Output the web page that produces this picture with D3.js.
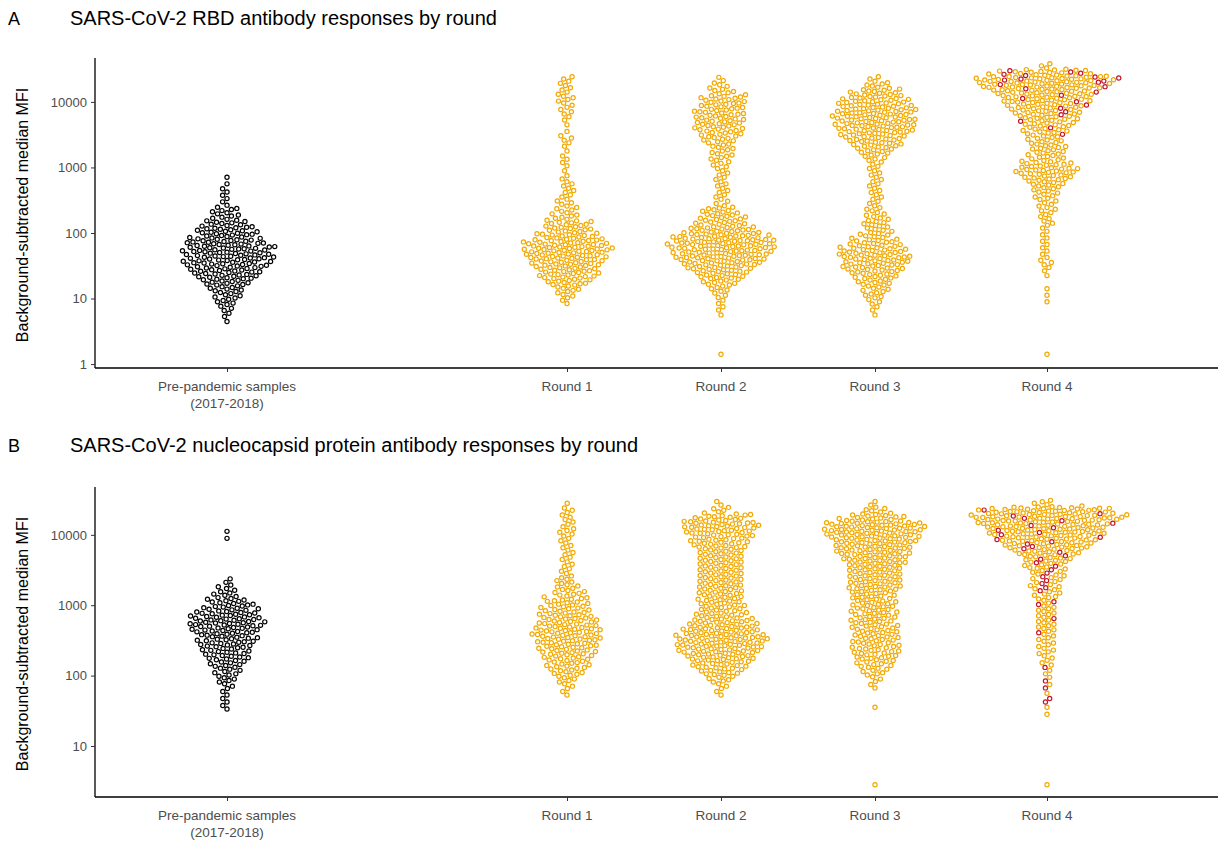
<!DOCTYPE html>
<html><head><meta charset="utf-8">
<script src="https://cdn.jsdelivr.net/npm/d3@7"></script>
<style>body{margin:0;background:#fff;font-family:Arial,"Liberation Sans",sans-serif}</style>
</head><body><svg id="c" width="1225" height="846"></svg>
<script>
// Data: counts of samples per log10 bin of width 0.1 (bin k covers 10^(k/10) .. 10^((k+1)/10))
const categories = ["Pre-pandemic samples\n(2017-2018)", "Round 1", "Round 2", "Round 3", "Round 4"];
const yTicksA = [1, 10, 100, 1000, 10000];
const yTicksB = [10, 100, 1000, 10000];
const titleA = "SARS-CoV-2 RBD antibody responses by round";
const titleB = "SARS-CoV-2 nucleocapsid protein antibody responses by round";
const yLabel = "Background-subtracted median MFI";

// Panel A (RBD)
const rbdPre = {6:1,7:2,8:3,9:5,10:6,11:8,12:11,13:14,14:16,15:18,16:19,17:19,18:18,19:14,20:13,21:10,22:6,23:6,24:2,25:2,26:2,27:1,28:1};
const rbdR1 = {9:2,10:4,11:6,12:10,13:13,14:14,15:16,16:18,17:20,18:18,19:14,20:11,21:10,22:6,23:5,24:4,25:3,26:3,27:3,28:2,29:1,30:2,31:2,32:1,33:2,34:3,35:1,36:1,37:2,38:3,39:3,40:4,41:3,42:3,43:3};
const rbdR2 = {1:1,7:1,8:2,9:2,10:3,11:5,12:8,13:11,14:14,15:18,16:21,17:22,18:24,19:21,20:16,21:11,22:10,23:8,24:3,25:3,26:3,27:3,28:3,29:3,30:4,31:5,32:5,33:6,34:8,35:10,36:11,37:11,38:11,39:10,40:10,41:6,42:4,43:2};
const rbdR3 = {7:1,8:2,9:3,10:5,11:6,12:8,13:10,14:13,15:14,16:16,17:14,18:11,19:8,20:6,21:6,22:5,23:4,24:3,25:3,26:3,27:3,28:3,29:3,30:3,31:5,32:8,33:11,34:13,35:16,36:18,37:18,38:18,39:16,40:14,41:11,42:6,43:3};
const rbdR4 = {1:1,9:1,10:1,11:1,13:1,14:2,15:3,16:2,17:2,18:2,19:2,20:2,21:3,22:3,23:4,24:4,25:5,26:6,27:8,28:11,29:14,30:11,31:8,32:8,33:8,34:8,35:9,36:10,37:12,38:13,39:16,40:18,41:21,42:26,43:26,44:17,45:3};
const rbdR4Red = {35:1,36:1,37:1,38:2,39:2,40:2,41:2,42:3,43:6,44:5};

// Panel B (nucleocapsid)
const ncPre = {15:2,16:2,17:2,18:3,19:5,20:6,21:8,22:10,23:11,24:13,25:14,26:16,27:18,28:16,29:13,30:10,31:6,32:4,33:2,39:1,40:1};
const ncR1 = {17:2,18:3,19:5,20:8,21:10,22:11,23:13,24:14,25:16,26:16,27:14,28:13,29:11,30:10,31:8,32:6,33:5,34:3,35:3,36:3,37:3,38:3,39:3,40:4,41:3,42:3,43:3,44:1};
const ncR2 = {17:2,18:3,19:6,20:10,21:13,22:16,23:19,24:21,25:22,26:19,27:16,28:13,29:11,30:11,31:11,32:11,33:11,34:11,35:11,36:11,37:11,38:13,39:14,40:16,41:18,42:13,43:5,44:2};
const ncR3 = {4:1,15:1,18:2,19:3,20:6,21:8,22:10,23:11,24:11,25:11,26:11,27:11,28:11,29:11,30:11,31:11,32:13,33:13,34:13,35:14,36:16,37:18,38:19,39:21,40:24,41:24,42:14,43:6,44:2};
const ncR4 = {4:1,14:1,15:1,17:1,18:1,19:1,20:2,21:2,22:3,23:4,24:4,25:4,26:4,27:5,28:4,29:5,30:3,31:6,32:5,33:5,34:6,35:8,36:10,37:14,38:18,39:22,40:25,41:28,42:33,43:30,44:5};
const ncR4Red = {16:2,18:1,19:1,21:1,26:1,28:1,30:2,32:2,33:2,34:2,35:2,36:2,37:2,38:3,39:3,40:3,41:3,42:3,43:2};

const panels = [
  {letter:"A", title:titleA, ticks:yTicksA, groups:[rbdPre,rbdR1,rbdR2,rbdR3,rbdR4], red:rbdR4Red},
  {letter:"B", title:titleB, ticks:yTicksB, groups:[ncPre,ncR1,ncR2,ncR3,ncR4], red:ncR4Red}
];

// ---- layout ----
const svg = d3.select("#c");
const catX = d3.scaleOrdinal().domain(categories).range([227, 567, 721, 875, 1047]);
const panelLayout = [
  {top:58, bottom:368, logBottom:-0.06, logTop:4.67, titleY:25},
  {top:487, bottom:797, logBottom:0.275, logTop:4.68, titleY:452}
];
const ORANGE = "#f2a900", RED = "#c4162a";
const D = 5.5;

function expand(bins, red){
  const pts=[];
  const keys=new Set([...Object.keys(bins), ...Object.keys(red||{})].map(Number));
  [...keys].sort((a,b)=>a-b).forEach(k=>{
    const n1=bins[k]||0, n2=red?(red[k]||0):0, n=n1+n2;
    let r=0;
    for(let i=0;i<n;i++){
      const isRed = n2>0 && (i % Math.max(1,Math.floor(n/n2))===0) && r<n2;
      if(isRed) r++;
      pts.push({k, lv:(k+(i+0.5)/n)/10, red:isRed});
    }
  });
  return pts;
}

function swarm(pts, y){
  const placed=[];
  pts.sort((a,b)=>a.lv-b.lv);
  pts.forEach(p=>{
    p.y=y(Math.pow(10,p.lv));
    const iv=[];
    placed.forEach(q=>{const dy=Math.abs(q.y-p.y); if(dy<D){const dx=Math.sqrt(D*D-dy*dy); iv.push([q.x-dx,q.x+dx]);}});
    const cands=[0]; iv.forEach(v=>{cands.push(v[0]-1e-6,v[1]+1e-6);});
    cands.sort((a,b)=>Math.abs(a)-Math.abs(b));
    for(const c of cands){ if(!iv.some(v=>c>v[0]&&c<v[1])){p.x=c;break;} }
    placed.push(p);
  });
  return pts;
}

panels.forEach((P,pi)=>{
  const L=panelLayout[pi];
  const y=d3.scaleLog().domain([Math.pow(10,L.logBottom),Math.pow(10,L.logTop)]).range([L.bottom,L.top]);
  const g=svg.append("g");
  g.append("text").attr("x",8).attr("y",L.titleY).attr("font-size",18).text(P.letter);
  g.append("text").attr("x",70).attr("y",L.titleY).attr("font-size",20).text(P.title);
  const ax=g.append("g").attr("transform","translate(95,0)").call(d3.axisLeft(y).tickValues(P.ticks).tickFormat(d3.format("d")).tickSize(4).tickPadding(4));
  ax.select(".domain").attr("d",`M0,${L.top}V${L.bottom}`).attr("stroke","#000").attr("stroke-width",1.3);
  ax.selectAll(".tick line").attr("stroke","#333");
  ax.selectAll(".tick text").attr("font-size",13).attr("fill","#4d4d4d").attr("font-family","Arial,'Liberation Sans',sans-serif");
  const xa=g.append("g").attr("transform",`translate(0,${L.bottom})`).call(d3.axisBottom(catX).tickSize(4).tickPadding(5).tickFormat(""));
  xa.select(".domain").attr("d","M95,0H1218").attr("stroke","#000").attr("stroke-width",1.3);
  xa.selectAll(".tick line").attr("stroke","#333");
  categories.forEach(c=>{
    c.split("\n").forEach((s,i)=>g.append("text").attr("x",catX(c)).attr("y",L.bottom+23+i*17).attr("text-anchor","middle").attr("font-size",13.5).attr("fill","#4d4d4d").text(s));
  });
  g.append("text").attr("transform",`translate(28,${(L.top+L.bottom)/2+2}) rotate(-90)`).attr("text-anchor","middle").attr("font-size",16).text(yLabel);
  P.groups.forEach((bins,gi)=>{
    const pts=swarm(expand(bins, gi===4?P.red:null), y);
    const cx=catX(categories[gi]);
    g.append("g").selectAll("circle").data(pts).join("circle")
      .attr("cx",d=>cx+d.x).attr("cy",d=>d.y).attr("r",2.1)
      .attr("fill","#fff").attr("stroke",d=>gi===0?"#000":(d.red?RED:ORANGE)).attr("stroke-width",1.2);
  });
});
</script></body></html>
